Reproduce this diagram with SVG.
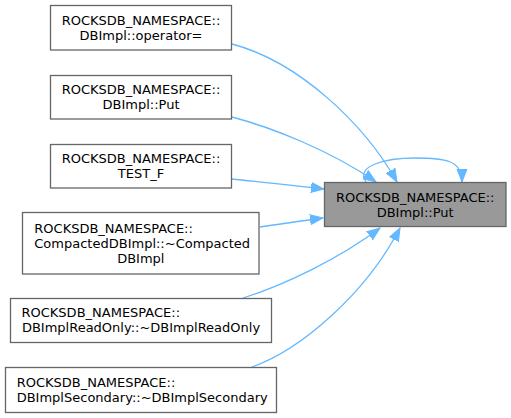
<svg xmlns="http://www.w3.org/2000/svg" width="511" height="418" viewBox="0 0 511 418">
<style>
text{font-family:"DejaVu Sans","Liberation Sans",sans-serif;font-size:13px;fill:#000}
.n{fill:#fff;stroke:#666;stroke-width:1.3}
.t{fill:#999;stroke:#666;stroke-width:1.3}
.e{fill:none;stroke:#63b8ff;stroke-width:1.3}
.m{text-anchor:middle}
</style>
<defs>
<marker id="a" markerUnits="userSpaceOnUse" markerWidth="14" markerHeight="12" refX="13" refY="5" orient="auto" viewBox="0 0 14 10">
<path d="M0,0 L13,5 L0,10 Z" fill="#63b8ff" stroke="#63b8ff" stroke-width="1"/>
</marker>
</defs>
<rect width="511" height="418" fill="#fff"/>
<g id="edges">
<path class="e" marker-end="url(#a)" d="M232,44 C300,62 365,125 397,182"/>
<path class="e" marker-end="url(#a)" d="M232,117 C270,127 330,150 376,182"/>
<path class="e" marker-end="url(#a)" d="M232,179 C260,182 290,185 324,189"/>
<path class="e" marker-end="url(#a)" d="M260,227 C280,224 300,221 323,218"/>
<path class="e" marker-end="url(#a)" d="M243,298 C285,285 340,258 380,228"/>
<path class="e" marker-end="url(#a)" d="M252,367 C300,350 365,295 400,228"/>
<path class="e" marker-end="url(#a)" d="M366,182 C355,166 385,158 415,158 C445,158 462,160 462,182"/>
</g>
<g id="target">
<rect class="t" x="324.5" y="182.5" width="181.5" height="44"/>
<text x="415.2" y="201.5" class="m">ROCKSDB_NAMESPACE::</text>
<text x="415.2" y="216.5" class="m">DBImpl::Put</text>
</g>
<g id="n1">
<rect class="n" x="50.5" y="5.5" width="181" height="44.5"/>
<text x="141" y="24.5" class="m">ROCKSDB_NAMESPACE::</text>
<text x="141" y="39.5" class="m">DBImpl::operator=</text>
</g>
<g id="n2">
<rect class="n" x="50.5" y="75.5" width="181" height="43.5"/>
<text x="141" y="94" class="m">ROCKSDB_NAMESPACE::</text>
<text x="141" y="109" class="m">DBImpl::Put</text>
</g>
<g id="n3">
<rect class="n" x="50.5" y="144.5" width="181" height="43.5"/>
<text x="141" y="163" class="m">ROCKSDB_NAMESPACE::</text>
<text x="141" y="178" class="m">TEST_F</text>
</g>
<g id="n4">
<rect class="n" x="22.5" y="212.5" width="236.5" height="61.5"/>
<text x="34.3" y="232.8">ROCKSDB_NAMESPACE::</text>
<text x="34.3" y="247.8">CompactedDBImpl::~Compacted</text>
<text x="140.8" y="262.8" class="m">DBImpl</text>
</g>
<g id="n5">
<rect class="n" x="10.5" y="298.5" width="261" height="44"/>
<text x="21.5" y="317.3">ROCKSDB_NAMESPACE::</text>
<text x="141" y="332.3" class="m">DBImplReadOnly::~DBImplReadOnly</text>
</g>
<g id="n6">
<rect class="n" x="5.5" y="367.5" width="271" height="45"/>
<text x="16.7" y="387.2">ROCKSDB_NAMESPACE::</text>
<text x="16.7" y="402.2">DBImplSecondary::~DBImplSecondary</text>
</g>
</svg>
